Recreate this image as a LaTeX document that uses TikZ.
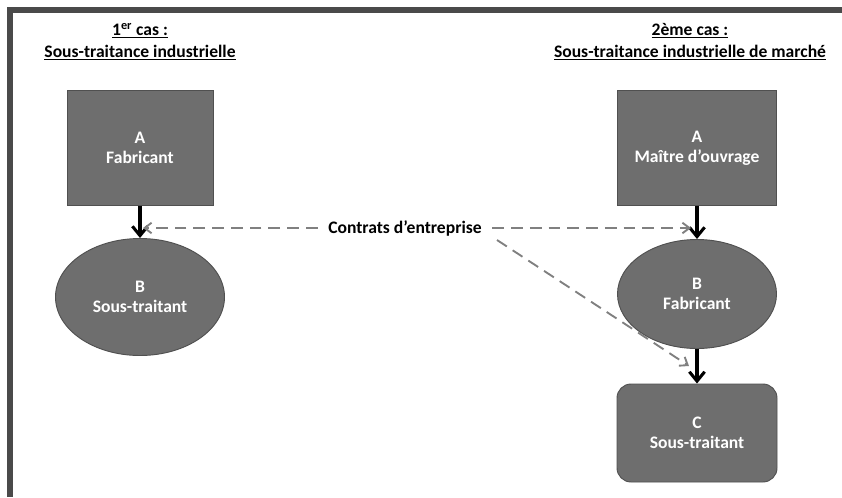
\documentclass[tikz,border=0pt]{standalone}
\usepackage{fontspec}
\setmainfont{Carlito}
\usetikzlibrary{arrows.meta,shapes.geometric}
\definecolor{boxfill}{HTML}{6E6E6E}
\definecolor{boxline}{HTML}{505050}
\definecolor{framecol}{HTML}{4A4A4A}
\begin{document}
\begin{tikzpicture}[x=0.03cm,y=-0.03cm]
\tikzstyle{every node}=[font=\bfseries\fontsize{15}{17}\selectfont]
\tikzstyle{bloc}=[draw=boxline,fill=boxfill,text=white,align=center,minimum width=146*0.03cm,minimum height=115*0.03cm,line width=0.8pt]
\tikzstyle{ovale}=[ellipse,draw=boxline,fill=boxfill,text=white,align=center,line width=0.8pt,inner sep=0pt]
\tikzstyle{lien}=[-{Straight Barb[length=8pt,width=13pt]},line width=2.6pt,black]
\tikzstyle{contrat}=[-{Straight Barb[length=6pt,width=9pt]},dash pattern=on 10pt off 6pt,line width=1.6pt,gray]
\useasboundingbox (0,0) rectangle (842,497);
\fill[white] (0,0) rectangle (842,497);
% cadre
\fill[framecol] (7,7) rectangle (842,13);
\fill[framecol] (7,7) rectangle (13,497);
% titres
\node (t1) at (140,31) {\underline{1\textsuperscript{er} cas :}};
\node (t1b) at (140,53) {\underline{Sous-traitance industrielle}};
\node (t2) at (690,31) {\underline{2ème cas :}};
\node (t2b) at (690,53) {\underline{Sous-traitance industrielle de marché}};
% 1er cas
\node[bloc] (fabA) at (140,148) {A\\Fabricant};
\node[ovale,minimum width=169*0.03cm,minimum height=117*0.03cm] (stB) at (140,297) {B\\Sous-traitant};
\draw[lien] (fabA) -- (stB);
% 2eme cas
\node[bloc,minimum width=159*0.03cm] (moA) at (697,148) {A\\Maître d’ouvrage};
\node[ovale,minimum width=159*0.03cm,minimum height=109*0.03cm] (fabB) at (697,294) {B\\Fabricant};
\node[bloc,rounded corners=12pt,minimum width=160*0.03cm,minimum height=98*0.03cm] (stC) at (697,433) {C\\Sous-traitant};
\draw[lien] (moA) -- (fabB);
\draw[lien] (fabB) -- (stC);
% contrats
\node[inner xsep=9pt] (ctr) at (405,228) {Contrats d’entreprise};
\coordinate (c0) at (497,240);
\coordinate (c1) at (143,228);
\coordinate (c2) at (691,228);
\coordinate (c3) at (689,366);
\draw[contrat] (ctr.west) -- (c1);
\draw[contrat] (ctr.east) -- (c2);
\draw[contrat] (c0) -- (c3);
\end{tikzpicture}
\end{document}
